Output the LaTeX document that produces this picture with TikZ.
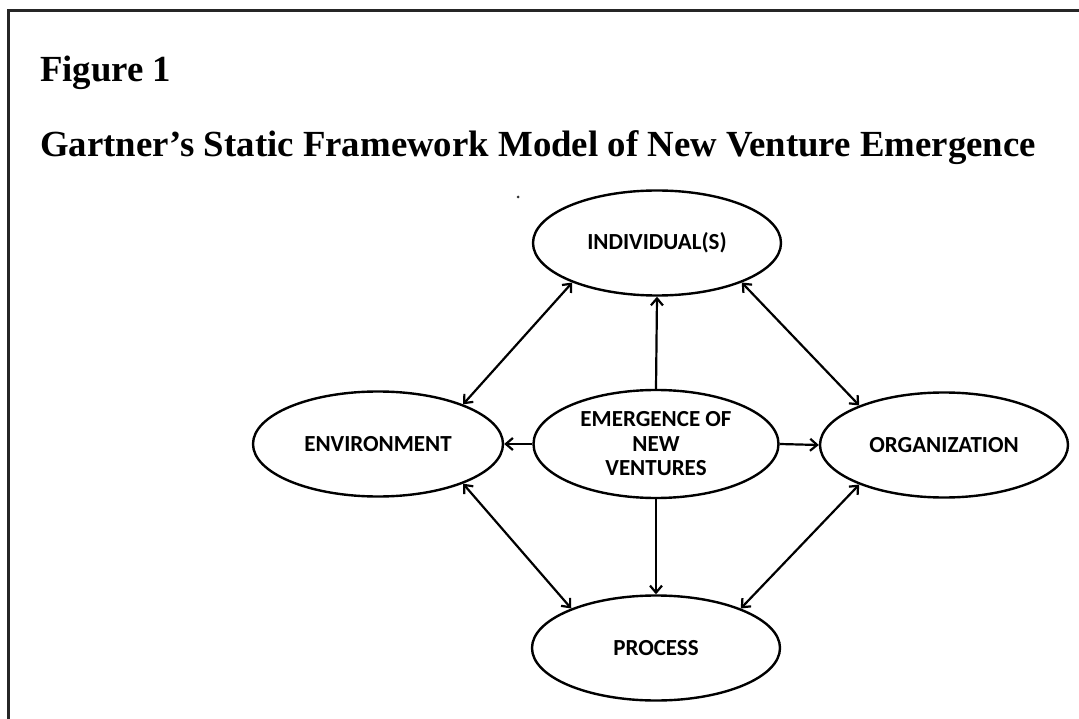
\documentclass[tikz,border=0pt]{standalone}
\usepackage{fontspec}
\setmainfont{Liberation Serif}
\newfontfamily\boxfont{Carlito}
\usetikzlibrary{shapes.geometric,arrows.meta}
\begin{document}
\begin{tikzpicture}[x=1pt,y=-1pt,
  oval/.style={draw, ellipse, line width=2.4pt, inner sep=0pt,
    minimum width=248pt, minimum height=105pt, align=center,
    font=\boxfont\bfseries\fontsize{23}{24.5}\selectfont},
  tip/.style={},
  conn/.style={line width=2.2pt, -{Straight Barb[length=7pt,width=12pt]}},
  biconn/.style={line width=2.2pt, {Straight Barb[length=7pt,width=12pt]}-{Straight Barb[length=7pt,width=12pt]}},
  heading/.style={anchor=base west, inner sep=0pt, font=\bfseries\fontsize{36.8}{40}\selectfont}]
\useasboundingbox (0,0) rectangle (1079,719);
\fill[white] (0,0) rectangle (1079,719);
% frame
\draw[line width=3pt, black!85] (8,719) -- (8,11) -- (1079,11);
% headings
\node[heading] (fig) at (40,82) {Figure 1};
\node[heading] (title) at (40,157) {Gartner’s Static Framework Model of New Venture Emergence};
\fill[black!80] (518,197) circle (1.5pt);
% ellipses
\node[oval] (ind) at (657,243) {INDIVIDUAL(S)};
\node[oval, minimum width=250pt] (env) at (378,444) {ENVIRONMENT};
\node[oval, minimum width=245pt, minimum height=108pt] (emg) at (656,444) {EMERGENCE OF\\NEW\\VENTURES};
\node[oval] (org) at (944,445) {ORGANIZATION};
\node[oval] (proc) at (656,648) {PROCESS};
% connectors
\draw[conn] (emg.north) -- (ind.south);
\draw[conn] (emg.south) -- (proc.north);
\draw[conn] (emg.west) -- (env.east);
\draw[conn] (emg.east) -- (org.west);
\draw[biconn] (ind.205) -- (env.25);
\draw[biconn] (ind.335) -- (org.155);
\draw[biconn] (env.335) -- (proc.155);
\draw[biconn] (org.205) -- (proc.25);
\end{tikzpicture}
\end{document}
